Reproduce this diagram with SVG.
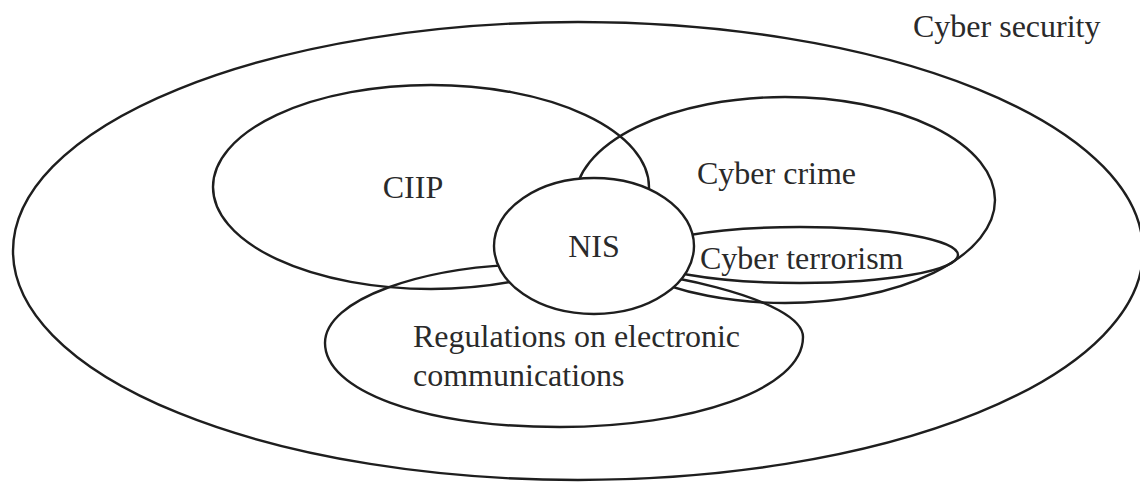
<svg xmlns="http://www.w3.org/2000/svg" width="1140" height="482" viewBox="0 0 1140 482">
<style>
.sh{fill:none;stroke:#1e1e1e;stroke-width:2.4}
.t{font-family:"Liberation Serif","Times New Roman",serif;font-size:32px;fill:#2a2a2a}
</style>
<rect width="1140" height="482" fill="#fff"/>
<g id="cyber-security">
<ellipse class="sh" cx="578" cy="251" rx="565" ry="229"/>
<text class="t" x="913" y="37">Cyber security</text>
</g>
<g id="ciip">
<ellipse class="sh" cx="431" cy="187" rx="218" ry="102"/>
<text class="t" x="413" y="198" text-anchor="middle">CIIP</text>
</g>
<g id="cyber-crime">
<ellipse class="sh" cx="785" cy="200" rx="210" ry="103"/>
<text class="t" x="697" y="184">Cyber crime</text>
</g>
<g id="cyber-terrorism">
<ellipse class="sh" cx="800" cy="255" rx="158" ry="28"/>
<text class="t" x="700" y="269">Cyber terrorism</text>
</g>
<g id="regulations">
<path class="sh" d="M325,343 C325,300 420,265 540,264 C660,266 803,300 803,337 C803,390 690,427 560,427 C420,427 325,390 325,343 Z"/>
<text class="t" x="413" y="347">Regulations on electronic</text>
<text class="t" x="413" y="386">communications</text>
</g>
<g id="nis">
<ellipse class="sh" cx="594" cy="246" rx="100" ry="68" style="fill:#fff"/>
<text class="t" x="594" y="257" text-anchor="middle">NIS</text>
</g>
<g id="connectors"></g>
</svg>
